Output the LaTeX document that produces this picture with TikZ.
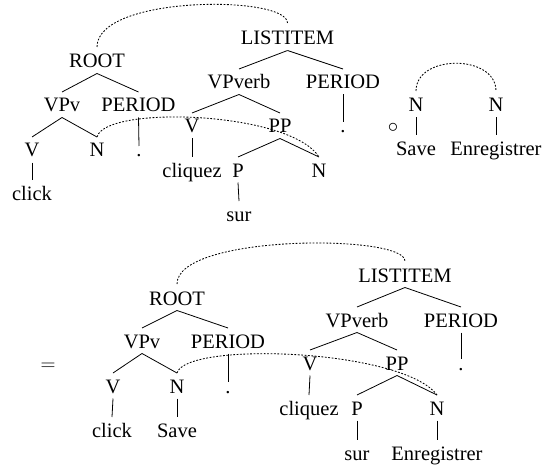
\documentclass[tikz,border=0pt]{standalone}
\usepackage{fontspec}
\setmainfont{Liberation Serif}
\newfontfamily\treefont{Liberation Serif}
\newcommand\tdown[2]{\draw[edge] ([yshift=-5.5pt]#1.base) -- ([yshift=20pt]#2.base);}
\newcommand\tdot[2]{\draw[edge] ([yshift=-5.5pt]#1.base) -- ([yshift=11pt]#2.base);}
\begin{document}
\begin{tikzpicture}[x=1pt,y=-1pt,
  lbl/.style={anchor=base,inner sep=0pt,font=\treefont\fontsize{20.5}{24}\selectfont},
  edge/.style={line width=0.8pt},
  link/.style={line width=0.85pt,dash pattern=on 1.8pt off 1.6pt}]
\useasboundingbox (0,0) rectangle (554,468);
% ---------- top: ROOT tree ----------
\node[lbl] (rootA) at (97,68) {ROOT};
\node[lbl] (vpvA) at (62,112) {VPv};
\node[lbl] (perA) at (138.5,112) {PERIOD};
\node[lbl] (vA) at (32,157) {V};
\node[lbl] (nA) at (97,157) {N};
\node[lbl] (dotA) at (139,157) {.};
\node[lbl] (clickA) at (32,200) {click};
\tdown{rootA}{vpvA}
\tdown{rootA}{perA}
\tdown{vpvA}{vA}
\tdown{vpvA}{nA}
\tdot{perA}{dotA}
\tdown{vA}{clickA}
% ---------- top: LISTITEM tree ----------
\node[lbl] (listA) at (287.5,45) {LISTITEM};
\node[lbl] (vpverbA) at (239,89) {VPverb};
\node[lbl] (per2A) at (343,89) {PERIOD};
\node[lbl] (v2A) at (192,133) {V};
\node[lbl] (ppA) at (280,133) {PP};
\node[lbl] (dot2A) at (343,133) {.};
\node[lbl] (cliquezA) at (192,177) {cliquez};
\node[lbl] (pA) at (238,177) {P};
\node[lbl] (n2A) at (319,177) {N};
\node[lbl] (surA) at (239,221) {sur};
\tdown{listA}{vpverbA}
\tdown{listA}{per2A}
\tdown{vpverbA}{v2A}
\tdown{vpverbA}{ppA}
\tdot{per2A}{dot2A}
\tdown{v2A}{cliquezA}
\tdown{ppA}{pA}
\tdown{ppA}{n2A}
\tdown{pA}{surA}
% links
\draw[link] ([yshift=21pt]rootA.base) .. controls +(0,-52) and +(0,-28) .. ([yshift=22pt]listA.base);
\draw[link] ([yshift=20pt]nA.base) .. controls +(8,-32) and +(-29,-46) .. ([yshift=20pt]n2A.base);
% ---------- top right: lexical pair ----------
\node[lbl] (circ) at (393,133) {$\circ$};
\node[lbl] (nS) at (416,112) {N};
\node[lbl] (nE) at (496,112) {N};
\node[lbl] (save) at (416,155) {Save};
\node[lbl] (enreg) at (496,155) {Enregistrer};
\tdown{nS}{save}
\tdown{nE}{enreg}
\draw[link] ([yshift=21pt]nS.base) .. controls +(0,-37) and +(0,-37) .. ([yshift=21pt]nE.base);
% ---------- bottom ----------
\node[lbl] (eq) at (48,370) {$=$};
\node[lbl] (rootB) at (177,305) {ROOT};
\node[lbl] (vpvB) at (142,348) {VPv};
\node[lbl] (perB) at (228,348) {PERIOD};
\node[lbl] (vB) at (113,393) {V};
\node[lbl] (nB) at (177,393) {N};
\node[lbl] (dotB) at (228,393) {.};
\node[lbl] (clickB) at (112,437) {click};
\node[lbl] (saveB) at (177,437) {Save};
\tdown{rootB}{vpvB}
\tdown{rootB}{perB}
\tdown{vpvB}{vB}
\tdown{vpvB}{nB}
\tdot{perB}{dotB}
\tdown{vB}{clickB}
\tdown{nB}{saveB}
\node[lbl] (listB) at (405,282) {LISTITEM};
\node[lbl] (vpverbB) at (357,327) {VPverb};
\node[lbl] (per2B) at (461,327) {PERIOD};
\node[lbl] (v2B) at (310,370) {V};
\node[lbl] (ppB) at (397,370) {PP};
\node[lbl] (dot2B) at (461,370) {.};
\node[lbl] (cliquezB) at (309,415) {cliquez};
\node[lbl] (pB) at (357,415) {P};
\node[lbl] (n2B) at (437,415) {N};
\node[lbl] (surB) at (357,460) {sur};
\node[lbl] (enregB) at (437,460) {Enregistrer};
\tdown{listB}{vpverbB}
\tdown{listB}{per2B}
\tdown{vpverbB}{v2B}
\tdown{vpverbB}{ppB}
\tdot{per2B}{dot2B}
\tdown{v2B}{cliquezB}
\tdown{ppB}{pB}
\tdown{ppB}{n2B}
\tdown{pB}{surB}
\tdown{n2B}{enregB}
\draw[link] ([yshift=21pt]rootB.base) .. controls +(0,-50) and +(0,-27) .. ([yshift=21pt]listB.base);
\draw[link] ([yshift=20pt]nB.base) .. controls +(9,-32) and +(-34,-46) .. ([yshift=20pt]n2B.base);
\end{tikzpicture}
\end{document}
